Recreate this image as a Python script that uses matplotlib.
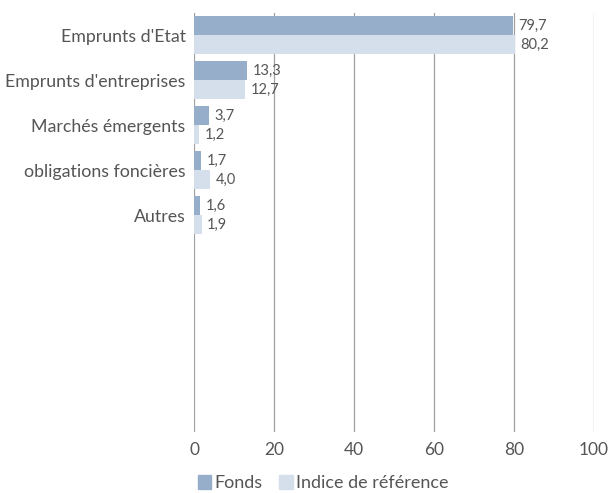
import matplotlib
matplotlib.use("Agg")
import matplotlib.pyplot as plt
import numpy as np
from matplotlib.patches import Patch

categories = ["Emprunts d'Etat", "Emprunts d'entreprises", "Marchés émergents",
              "obligations foncières", "Autres"]
fonds = [79.7, 13.3, 3.7, 1.7, 1.6]
indice = [80.2, 12.7, 1.2, 4.0, 1.9]
series_names = ["Fonds", "Indice de référence"]
xticks = [0, 20, 40, 60, 80, 100]

c_fonds = "#97AECA"
c_ind = "#D5DFEB"
txt = "#555555"
plt.rcParams['font.family'] = ['Lato', 'DejaVu Sans']

W, H = 612, 493
fig = plt.figure(figsize=(W/100, H/100), dpi=100)
left, right, top, bottom = 194, 594, 12.5, 432
ax = fig.add_axes([left/W, 1-bottom/H, (right-left)/W, (bottom-top)/H])

y = np.arange(len(categories))
h = 0.42
ax.barh(y - h/2, fonds, height=h, color=c_fonds, zorder=3)
ax.barh(y + h/2, indice, height=h, color=c_ind, zorder=3)

for yi, v in zip(y - h/2, fonds):
    ax.annotate(f"{v:.1f}".replace('.', ','), (v, yi), xytext=(4, 0),
                textcoords='offset points', va='center', ha='left',
                fontsize=10.5, color=txt, zorder=4)
for yi, v in zip(y + h/2, indice):
    ax.annotate(f"{v:.1f}".replace('.', ','), (v, yi), xytext=(4, 0),
                textcoords='offset points', va='center', ha='left',
                fontsize=10.5, color=txt, zorder=4)

ax.set_xlim(0, 100)
ax.set_ylim(8.82, -0.5)
ax.set_xticks(xticks)
ax.set_xticklabels([str(t) for t in xticks], fontsize=12.5, color=txt)
ax.set_yticks(y)
ax.set_yticklabels(categories, fontsize=12.8, color=txt)
ax.tick_params(axis='y', length=0, pad=6)
ax.tick_params(axis='x', length=0, pad=7)
for s in ax.spines.values():
    s.set_visible(False)
ax.grid(axis='x', color='#A0A0A0', linewidth=0.9, zorder=0)
ax.set_axisbelow(True)

handles = [Patch(color=c_fonds), Patch(color=c_ind)]
fig.legend(handles, series_names, loc='lower left', bbox_to_anchor=(185/W, -0.022),
           ncol=2, frameon=False, fontsize=13, labelcolor=txt,
           handlelength=0.75, handleheight=0.85, handletextpad=0.2, columnspacing=0.9,
           borderaxespad=0.3)

fig.savefig("out.png", dpi=100)
